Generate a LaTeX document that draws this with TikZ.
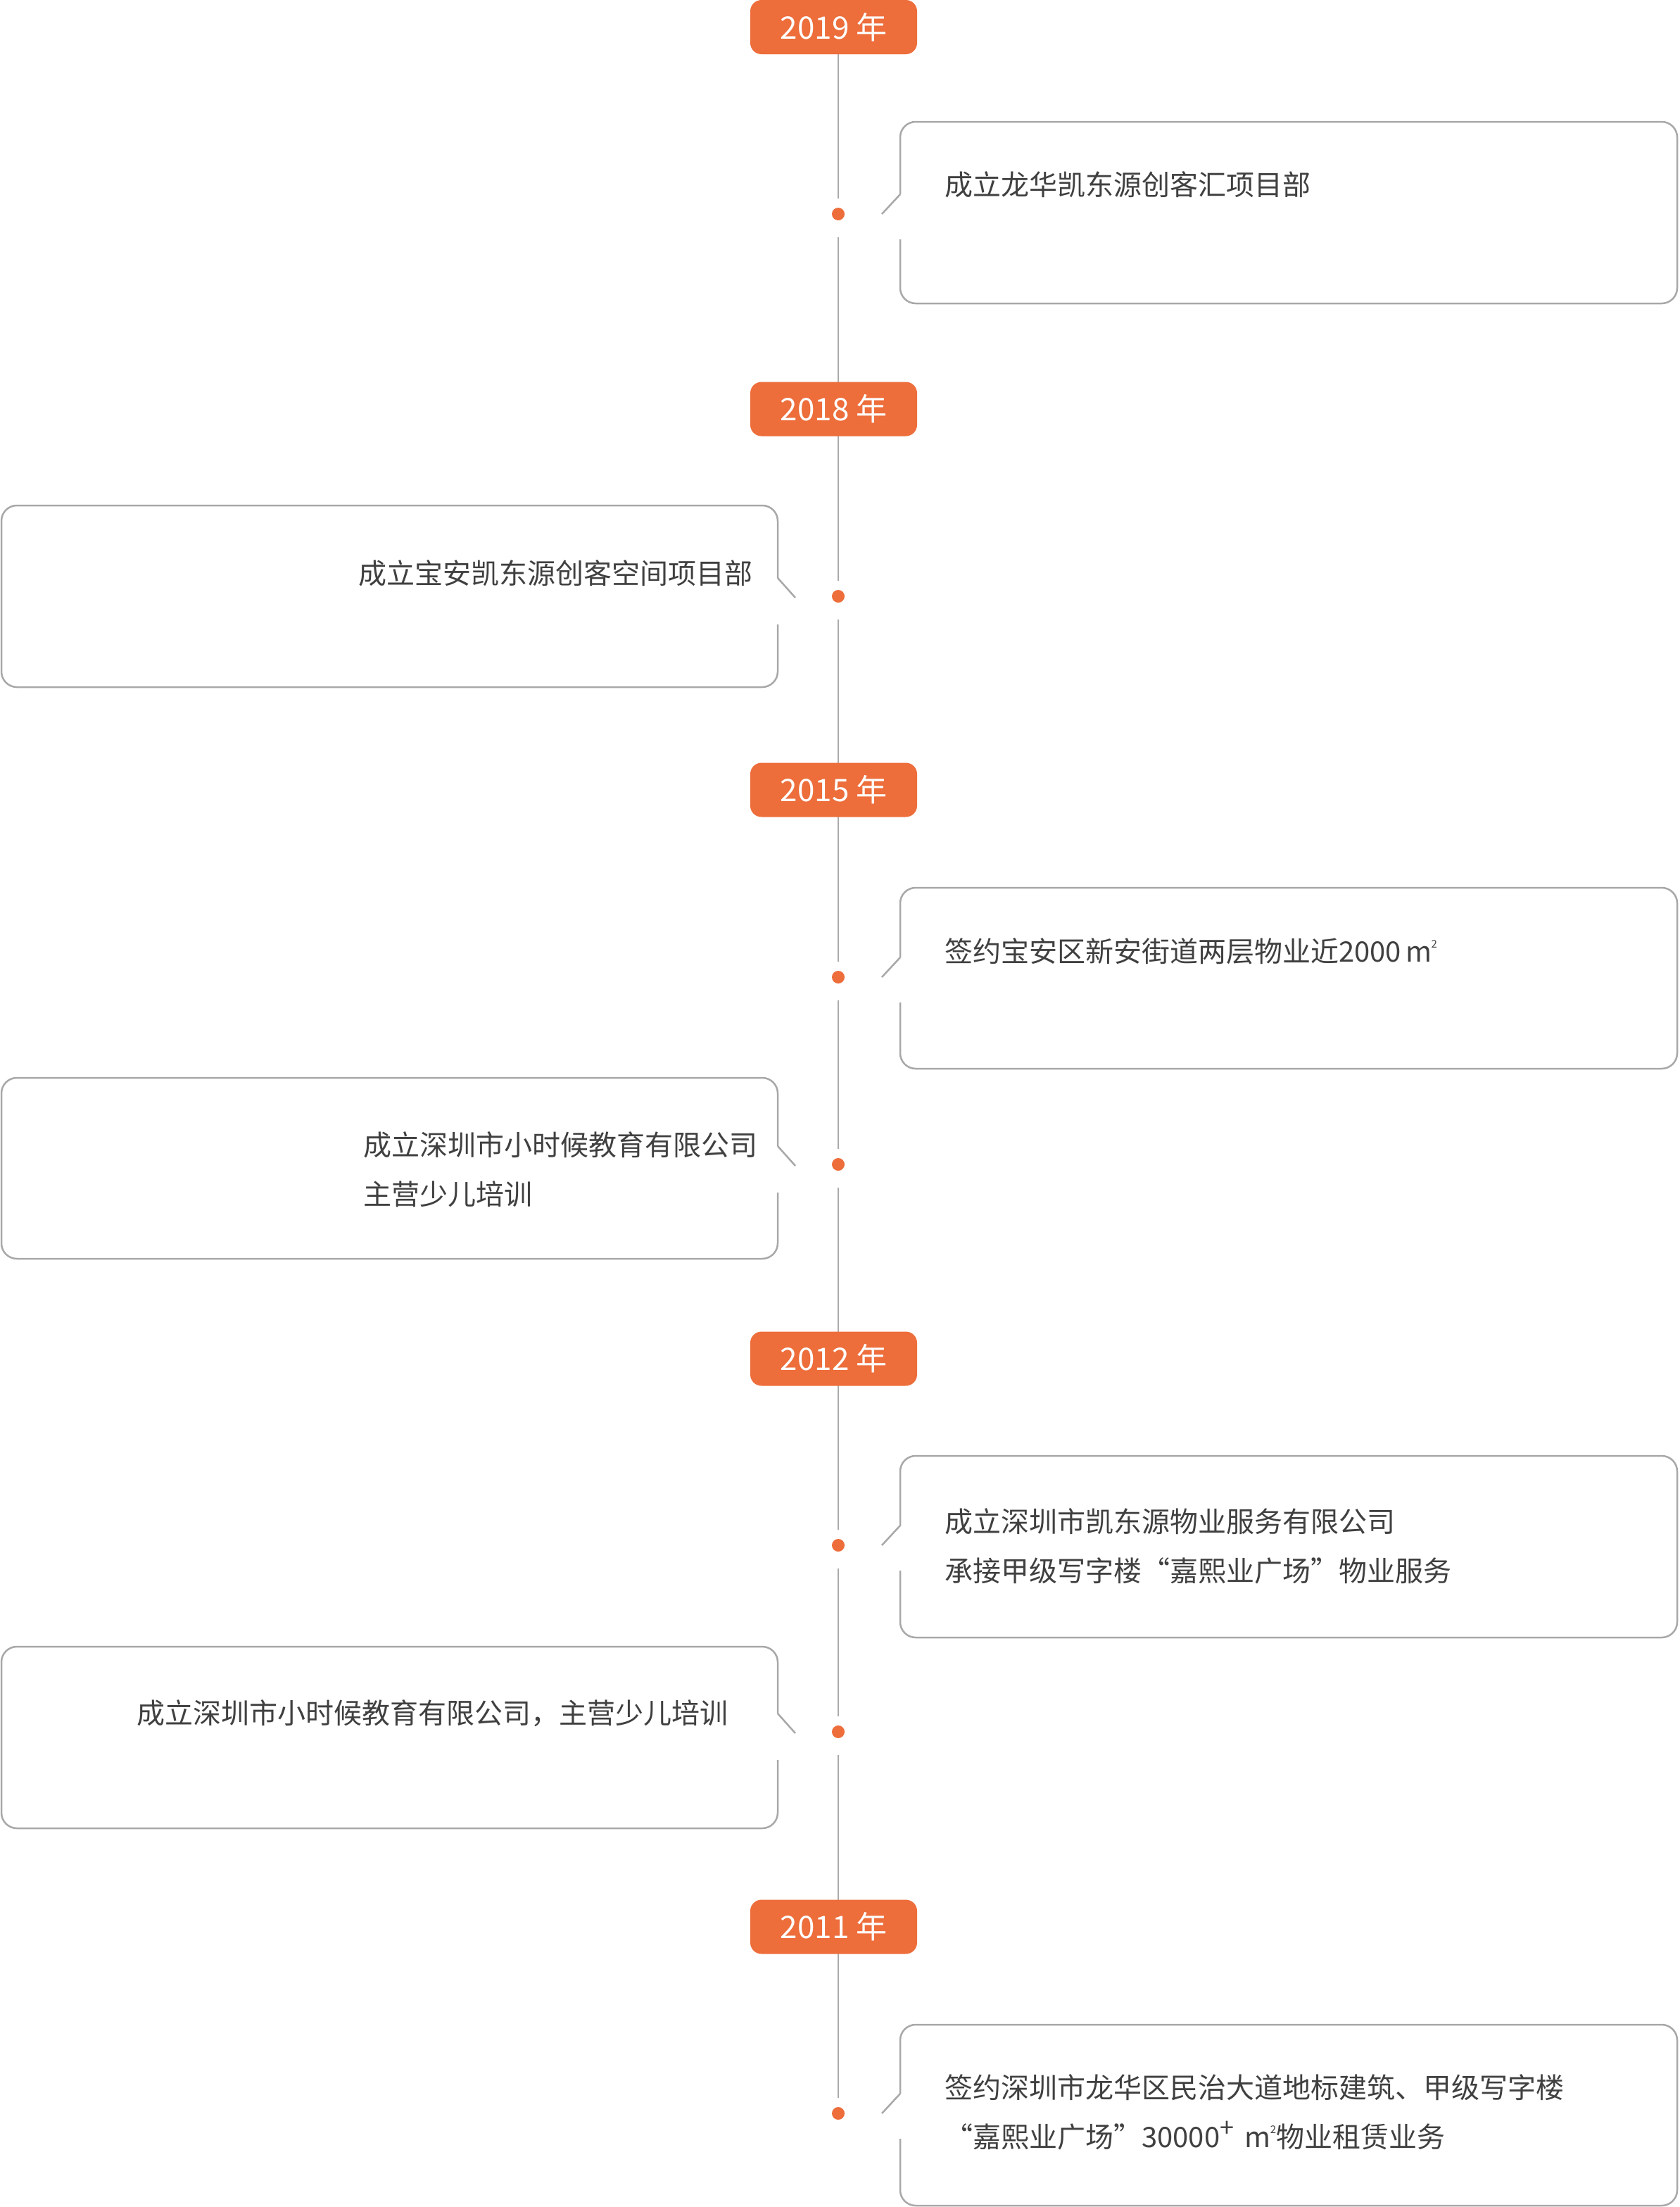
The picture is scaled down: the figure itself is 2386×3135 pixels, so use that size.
\documentclass[tikz,border=0pt]{standalone}
\usepackage{fontspec}
\setmainfont{Noto Sans CJK SC}
\definecolor{org}{HTML}{ED6D3B}
\definecolor{lgray}{HTML}{ABABAB}
\definecolor{bgray}{HTML}{A8A8A8}
\definecolor{tcol}{HTML}{404040}
\newcommand\rightcard[3]{% top, bottom, dot y
  \draw[bx] (1279,#3+36) -- (1279,#2) -- (2383,#2) -- (2383,#1) -- (1279,#1) -- (1279,#3-28);
  \draw[tipline] (1279,#3-28) -- (1253,#3);}
\newcommand\leftcard[3]{% top, bottom, dot y
  \draw[bx] (1105,#3+40) -- (1105,#2) -- (2,#2) -- (2,#1) -- (1105,#1) -- (1105,#3-26);
  \draw[tipline] (1105,#3-26) -- (1130,#3+2);}
\newcommand\sqm{m\kern-1pt\raisebox{0.5em}{\fontsize{15}{15}\selectfont 2}}
\begin{document}
\begin{tikzpicture}[x=1pt,y=-1pt,
  badge/.style={fill=org, rounded corners=16pt, minimum width=237pt, minimum height=77pt,
    inner sep=0pt, text=white, font=\fontsize{44}{44}\selectfont},
  tdot/.style={circle, fill=org, minimum size=18pt, inner sep=0pt},
  tl/.style={draw=lgray, line width=2pt},
  bx/.style={draw=bgray, line width=2.5pt, rounded corners=22pt},
  tipline/.style={draw=bgray, line width=2.5pt},
  txt/.style={text=tcol, font=\fontsize{40}{70}\selectfont, inner sep=0pt, align=left}
]
\useasboundingbox (0,0) rectangle (2386,3135);

% dots
\node[tdot] (d1) at (1191,304) {};
\node[tdot] (d2) at (1191,847) {};
\node[tdot] (d3) at (1191,1388) {};
\node[tdot] (d4) at (1191,1654) {};
\node[tdot] (d5) at (1191,2195) {};
\node[tdot] (d6) at (1191,2460) {};
\node[tdot] (d7) at (1191,3002) {};

% timeline segments
\draw[tl] (1191,38) -- ([yshift=22pt]d1.center);
\draw[tl] ([yshift=-33pt]d1.center) -- ([yshift=22pt]d2.center);
\draw[tl] ([yshift=-33pt]d2.center) -- ([yshift=22pt]d3.center);
\draw[tl] ([yshift=-33pt]d3.center) -- ([yshift=22pt]d4.center);
\draw[tl] ([yshift=-33pt]d4.center) -- ([yshift=22pt]d5.center);
\draw[tl] ([yshift=-33pt]d5.center) -- ([yshift=22pt]d6.center);
\draw[tl] ([yshift=-33pt]d6.center) -- ([yshift=22pt]d7.center);

% year badges
\node[badge] (y2019) at (1184.5,38.5) {2019 年};
\node[badge] (y2018) at (1184.5,581) {2018 年};
\node[badge] (y2015) at (1184.5,1122) {2015 年};
\node[badge] (y2012) at (1184.5,1930) {2012 年};
\node[badge] (y2011) at (1184.5,2737) {2011 年};

% cards
\rightcard{173}{431}{304}
\leftcard{718}{976}{847}
\rightcard{1261}{1518}{1388}
\leftcard{1531}{1788}{1654}
\rightcard{2068}{2326}{2195}
\leftcard{2339}{2597}{2460}
\rightcard{2876}{3133}{3002}

% texts
\node[txt, anchor=west] (t1) at (1342,262) {成立龙华凯东源创客汇项目部};
\node[txt, anchor=east] (t2) at (1070,814) {成立宝安凯东源创客空间项目部};
\node[txt, anchor=west] (t3) at (1342,1351) {签约宝安区新安街道两层物业近2000\,\sqm};
\node[txt, anchor=west] (t4) at (516,1661) {成立深圳市小时候教育有限公司\\主营少儿培训};
\node[txt, anchor=west] (t5) at (1342,2196) {成立深圳市凯东源物业服务有限公司\\承接甲级写字楼“嘉熙业广场”物业服务};
\node[txt, anchor=west] (t6) at (194,2434) {成立深圳市小时候教育有限公司，主营少儿培训};
\node[txt, anchor=west] (t7) at (1342,3000) {签约深圳市龙华区民治大道地标建筑、甲级写字楼\\“嘉熙业广场”30000\raisebox{0.36em}{\fontsize{36}{36}\selectfont +}\, \sqm 物业租赁业务};
\end{tikzpicture}
\end{document}
